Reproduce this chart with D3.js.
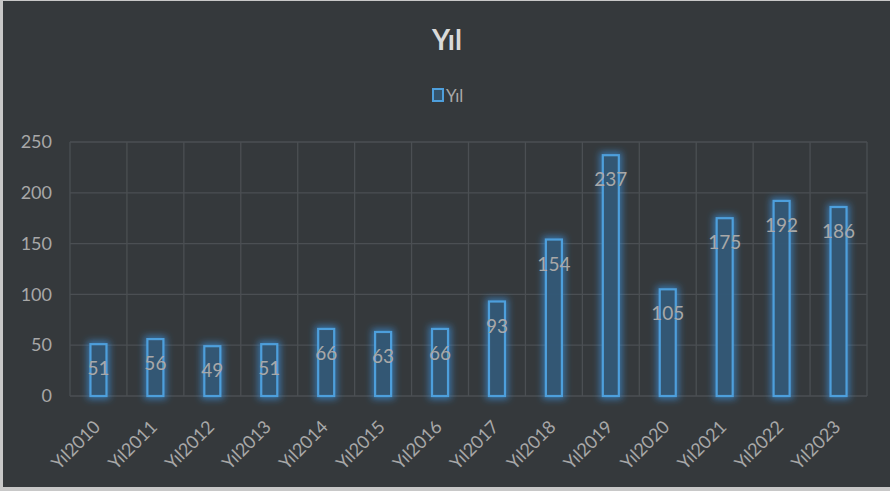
<!DOCTYPE html>
<html>
<head>
<meta charset="utf-8">
<script src="https://cdn.jsdelivr.net/npm/d3@7"></script>
<style>
  html, body { margin: 0; padding: 0; background: #ffffff; }
  svg { display: block; }
  .tick text { font-family: Lato, "Open Sans", sans-serif; }
</style>
</head>
<body>
<script>
    const years = ["Yıl2010", "Yıl2011", "Yıl2012", "Yıl2013", "Yıl2014", "Yıl2015", "Yıl2016",
                   "Yıl2017", "Yıl2018", "Yıl2019", "Yıl2020", "Yıl2021", "Yıl2022", "Yıl2023"];
    const counts = [51, 56, 49, 51, 66, 63, 66, 93, 154, 237, 105, 175, 192, 186];
    const yTicks = [0, 50, 100, 150, 200, 250];
    const seriesName = "Yıl";
    const chartTitle = "Yıl";

    const CANVAS = { WIDTH: 890, HEIGHT: 491 };
    const PLOT = { left: 70, right: 867, top: 142, bottom: 396 };
    const BAR_WIDTH = 16;
    const TEXT_COLOR = "#a8a8a8";
    const BLUE = "#4e9fdc";

    var svg = d3.select("body")
        .append("svg")
        .attr("width", CANVAS.WIDTH)
        .attr("height", CANVAS.HEIGHT);

    // glow filter for the bars
    var defs = svg.append("defs");
    var glow = defs.append("filter")
        .attr("id", "glow")
        .attr("x", "-100%").attr("y", "-40%")
        .attr("width", "300%").attr("height", "180%");
    glow.append("feMorphology")
        .attr("in", "SourceAlpha")
        .attr("operator", "dilate")
        .attr("radius", 1.5)
        .attr("result", "fat");
    glow.append("feGaussianBlur")
        .attr("in", "fat")
        .attr("stdDeviation", 3.5)
        .attr("result", "blur");
    glow.append("feFlood").attr("flood-color", "#3b8fd8").attr("flood-opacity", 0.7);
    glow.append("feComposite").attr("in2", "blur").attr("operator", "in").attr("result", "glowCol");
    var merge = glow.append("feMerge");
    merge.append("feMergeNode").attr("in", "glowCol");
    merge.append("feMergeNode").attr("in", "SourceGraphic");

    // background + frame
    svg.append("rect")
        .attr("width", CANVAS.WIDTH)
        .attr("height", CANVAS.HEIGHT)
        .attr("fill", "#c8c8c8");
    svg.append("rect")
        .attr("x", 3).attr("y", 1)
        .attr("width", CANVAS.WIDTH - 3)
        .attr("height", CANVAS.HEIGHT - 5)
        .attr("fill", "#35393c");

    var x = d3.scaleBand()
        .domain(years)
        .range([PLOT.left, PLOT.right]);

    var y = d3.scaleLinear()
        .domain([0, 250])
        .range([PLOT.bottom, PLOT.top]);

    // horizontal grid
    svg.append("g")
        .selectAll("line")
        .data(yTicks)
        .enter()
        .append("line")
        .attr("x1", PLOT.left)
        .attr("x2", PLOT.right)
        .attr("y1", function(d) { return y(d); })
        .attr("y2", function(d) { return y(d); })
        .attr("stroke", "#4b4f53")
        .attr("stroke-width", 1.3);

    // vertical grid at category boundaries
    var bounds = years.map(function(d) { return x(d); }).concat([PLOT.right]);
    svg.append("g")
        .selectAll("line")
        .data(bounds)
        .enter()
        .append("line")
        .attr("x1", function(d) { return d; })
        .attr("x2", function(d) { return d; })
        .attr("y1", PLOT.top)
        .attr("y2", PLOT.bottom)
        .attr("stroke", "#4b4f53")
        .attr("stroke-width", 1.3);

    // y axis labels
    var axisY = d3.axisLeft(y)
        .tickValues(yTicks)
        .tickSize(0)
        .tickPadding(18);
    var gy = svg.append("g")
        .attr("transform", "translate(" + PLOT.left + ",0)")
        .call(axisY);
    gy.select(".domain").remove();
    gy.selectAll("text")
        .attr("fill", TEXT_COLOR)
        .attr("font-size", 18);

    // x axis labels
    var axisX = d3.axisBottom(x).tickSize(0).tickPadding(0);
    var gx = svg.append("g")
        .attr("transform", "translate(0," + PLOT.bottom + ")")
        .call(axisX);
    gx.select(".domain").remove();
    gx.selectAll("text")
        .attr("fill", TEXT_COLOR)
        .attr("font-size", 18)
        .attr("text-anchor", "end")
        .attr("dy", null)
        .attr("y", 0)
        .attr("transform", "translate(3,32) rotate(-45)");

    // bars
    svg.append("g")
        .selectAll("rect")
        .data(counts)
        .enter()
        .append("rect")
        .attr("x", function(d, i) { return x(years[i]) + x.bandwidth() / 2 - BAR_WIDTH / 2; })
        .attr("y", function(d) { return y(d); })
        .attr("width", BAR_WIDTH)
        .attr("height", function(d) { return y(0) - y(d); })
        .attr("fill", "#33536c")
        .attr("fill-opacity", 0.9)
        .attr("stroke", BLUE)
        .attr("stroke-width", 2.2)
        .attr("filter", "url(#glow)");

    // value labels
    svg.append("g")
        .selectAll("text")
        .data(counts)
        .enter()
        .append("text")
        .attr("x", function(d, i) { return x(years[i]) + x.bandwidth() / 2; })
        .attr("y", function(d) { return y(d) + 31; })
        .attr("text-anchor", "middle")
        .attr("font-family", "Lato, 'Open Sans', sans-serif")
        .attr("font-size", 19)
        .attr("fill", TEXT_COLOR)
        .text(function(d) { return d; });

    // title
    svg.append("text")
        .attr("x", 447)
        .attr("y", 50)
        .attr("text-anchor", "middle")
        .attr("font-family", "Lato, 'Open Sans', sans-serif")
        .attr("font-weight", "bold")
        .attr("font-size", 28)
        .attr("fill", "#d9d9d9")
        .text(chartTitle);

    // legend
    var legend = svg.append("g")
        .attr("transform", "translate(432,88)");
    legend.append("rect")
        .attr("x", 1).attr("y", 1)
        .attr("width", 10).attr("height", 12)
        .attr("fill", "#33536c")
        .attr("stroke", BLUE)
        .attr("stroke-width", 2);
    legend.append("text")
        .attr("x", 14)
        .attr("y", 14)
        .attr("font-family", "Lato, 'Open Sans', sans-serif")
        .attr("font-size", 17)
        .attr("fill", TEXT_COLOR)
        .text(seriesName);
</script>
</body>
</html>
